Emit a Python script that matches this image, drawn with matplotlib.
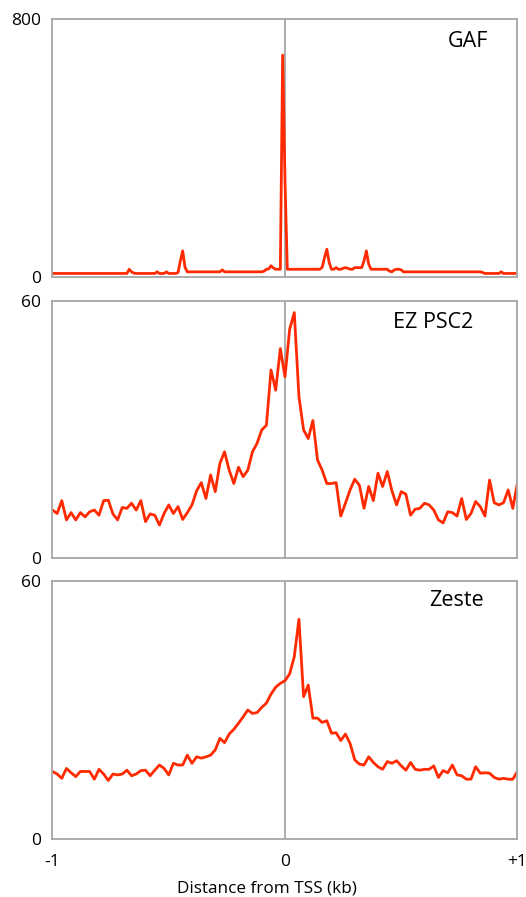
import numpy as np
import matplotlib
matplotlib.use('Agg')
import matplotlib.pyplot as plt

plt.rcParams['font.family'] = ['Open Sans', 'DejaVu Sans']

# GAF profile, 10 bp bins from -1 to +1 kb
gaf_x = np.linspace(-1, 1, 201)
gaf = [11, 11, 11, 11, 11, 11, 11, 11, 11, 11,
       11, 11, 11, 11, 11, 11, 11, 11, 11, 11,
       11, 11, 11, 11, 11, 11, 11, 11, 11, 11,
       11, 11, 11, 24, 16, 12, 11, 11, 11, 11,
       11, 11, 11, 11, 11, 16, 11, 11, 11, 16,
       11, 11, 11, 11, 14, 50, 81, 30, 16, 16,
       16, 16, 16, 16, 16, 16, 16, 16, 16, 16,
       16, 16, 16, 22, 16, 16, 16, 16, 16, 16,
       16, 16, 16, 16, 16, 16, 16, 16, 16, 16,
       16, 18, 24, 25, 35, 28, 24, 24, 24, 688,
       300, 24, 24, 24, 24, 24, 24, 24, 24, 24,
       24, 24, 24, 24, 24, 24, 30, 60, 86, 45,
       24, 24, 29, 24, 24, 27, 29, 27, 24, 24,
       29, 29, 29, 29, 50, 81, 40, 24, 24, 24,
       24, 24, 24, 24, 24, 18, 16, 22, 24, 24,
       22, 16, 16, 16, 16, 16, 16, 16, 16, 16,
       16, 16, 16, 16, 16, 16, 16, 16, 16, 16,
       16, 16, 16, 16, 16, 16, 16, 16, 16, 16,
       16, 16, 16, 16, 16, 14, 11, 11, 11, 11,
       11, 11, 11, 16, 11, 11, 11, 11, 11, 11,
       11]

# EZ PSC2 and Zeste, 20 bp bins
x20 = np.linspace(-1, 1, 101)
ez = [11.2, 10.4, 13.4, 8.9, 10.6, 8.9, 10.6, 9.6, 10.8, 11.2,
      10.0, 13.4, 13.5, 10.3, 8.9, 11.8, 11.6, 12.8, 11.2, 13.4,
      8.5, 10.3, 10.0, 7.7, 10.4, 12.4, 10.4, 12.0, 9.0, 10.6,
      12.4, 15.7, 17.6, 13.9, 19.4, 15.5, 22.1, 24.8, 20.5, 17.4,
      21.2, 19.0, 20.5, 24.8, 26.8, 29.9, 31.0, 43.9, 39.2, 48.9,
      42.3, 53.4, 57.3, 37.7, 29.9, 27.9, 32.1, 22.9, 20.5, 17.4,
      17.4, 17.6, 9.8, 12.8, 15.9, 18.4, 17.0, 11.6, 16.7, 13.4,
      19.8, 16.7, 20.2, 15.7, 12.4, 15.5, 14.9, 10.0, 11.4, 11.6,
      12.8, 12.4, 11.2, 8.9, 8.2, 10.8, 10.6, 9.8, 13.9, 9.0,
      10.4, 13.2, 12.0, 9.8, 18.2, 12.9, 12.4, 12.9, 15.9, 11.6,
      17.6]
zeste = [15.7, 15.1, 14.1, 16.4, 15.4, 14.5, 15.7, 15.7, 15.7, 13.9,
         16.2, 15.1, 13.6, 15.1, 14.9, 15.1, 16.0, 14.7, 15.1, 15.9,
         16.0, 14.7, 16.0, 17.2, 16.4, 14.9, 17.6, 17.2, 17.2, 19.5,
         17.6, 19.1, 18.8, 19.1, 19.5, 20.7, 23.4, 22.4, 24.4, 25.5,
         26.9, 28.4, 30.0, 29.2, 29.4, 30.6, 31.6, 33.7, 35.3, 36.2,
         36.8, 38.4, 42.4, 51.1, 33.1, 35.8, 28.1, 28.1, 27.1, 27.5,
         24.6, 24.7, 22.9, 24.4, 22.2, 18.4, 17.4, 17.2, 19.1, 17.8,
         16.8, 16.2, 18.0, 17.6, 18.2, 17.0, 16.0, 17.8, 16.2, 16.0,
         16.2, 16.2, 17.0, 14.3, 15.9, 15.4, 17.2, 14.9, 14.7, 13.9,
         13.9, 16.8, 15.3, 15.4, 15.3, 14.3, 13.9, 14.1, 13.9, 13.9,
         15.7]

names = ['GAF', 'EZ PSC2', 'Zeste']
ymax = [800, 60, 60]
xs = [gaf_x, x20, x20]
ys = [gaf, ez, zeste]
label_pos = [(0.937, 0.911), (0.904, 0.917), (0.928, 0.924)]
boxes = [[0.0998, 0.6912, 0.884, 0.2876],
         [0.0998, 0.3779, 0.884, 0.2865],
         [0.0998, 0.0647, 0.884, 0.2876]]

fig = plt.figure(figsize=(5.26, 8.97), dpi=100)
for i in range(3):
    ax = fig.add_axes(boxes[i])
    ax.axvline(0, color='#a6a6a6', lw=1.3, zorder=1)
    ax.plot(xs[i], ys[i], color='#ff2a00', lw=2.0, zorder=2)
    ax.set_xlim(-1, 1)
    ax.set_ylim(0, ymax[i])
    ax.set_yticks([0, ymax[i]])
    ax.tick_params(length=0, labelsize=12.5, pad=8)
    for s in ax.spines.values():
        s.set_color('#a6a6a6')
        s.set_linewidth(1.3)
    ax.text(label_pos[i][0], label_pos[i][1], names[i], transform=ax.transAxes,
            ha='right', va='center', fontsize=15.5)
    if i < 2:
        ax.set_xticks([])
    else:
        ax.set_xticks([-1, 0, 1])
        ax.set_xticklabels(['-1', '0', '+1'])
        ax.tick_params(axis='x', pad=11)

fig.text(0.507, 1 - 888 / 897, 'Distance from TSS (kb)', ha='center', va='center',
         fontsize=12.3)

fig.savefig('out.png', dpi=100)
